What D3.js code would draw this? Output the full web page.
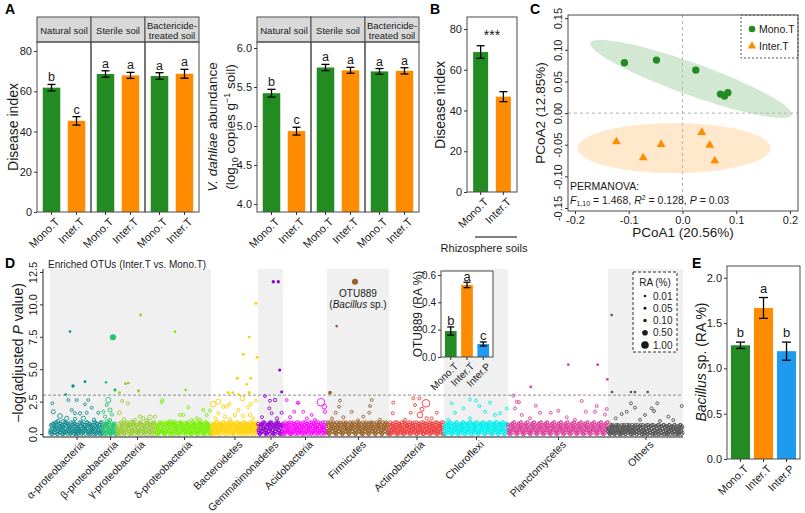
<!DOCTYPE html>
<html><head><meta charset="utf-8">
<script src="https://cdnjs.cloudflare.com/ajax/libs/d3/7.8.5/d3.min.js"></script>
<style>
html,body{margin:0;padding:0;background:#fff;}
svg{display:block;font-family:Arial,"Liberation Sans",sans-serif;}
</style></head><body>
<svg id="fig" width="805" height="513"></svg>
<script>
// ================= DATA =================
const treatments2 = ["Mono.T", "Inter.T"];
const treatments3 = ["Mono.T", "Inter.T", "Inter.P"];
const soilTypes = ["Natural soil", "Sterile soil", "Bactericide-|treated soil"];
// Panel A (left): disease index
const diseaseIndexMean = [[61.8, 45.3], [68.6, 67.9], [67.6, 68.7]];
const diseaseIndexSE = [[1.6, 2.1], [1.6, 1.5], [1.65, 2.2]];
const diseaseIndexLetters = [["b", "c"], ["a", "a"], ["a", "a"]];
const diTicks = [0, 20, 40, 60, 80];
// Panel A (right): V. dahliae abundance
const vdAbundMean = [[5.42, 4.934], [5.75, 5.714], [5.70, 5.707]];
const vdAbundSE = [[0.05, 0.05], [0.04, 0.038], [0.037, 0.04]];
const vdAbundLetters = [["b", "c"], ["a", "a"], ["a", "a"]];
const vdTicks = [4.0, 4.5, 5.0, 5.5, 6.0];
// Panel B: rhizosphere soils
const rhizoMean = [68.7, 46.8];
const rhizoSE = [3.1, 2.45];
// Panel C: PCoA
const pcoaMono = [[-0.108, 0.0795], [-0.0484, 0.0837], [0.0248, 0.0679], [0.0708, 0.030], [0.0782, 0.0269], [0.0844, 0.0321]];
const pcoaInter = [[-0.1229, -0.0453], [-0.0732, -0.0706], [-0.0397, -0.0494], [0.036, -0.0305], [0.0508, -0.0506], [0.0602, -0.0753]];
const ellipseMono = {cx: 0.016, cy: 0.054, ux: 0.1872, uy: -0.0569, vx: -0.0101, vy: -0.0239};
const ellipseInter = {cx: -0.0158, cy: -0.0553, ux: 0.1797, uy: 0, vx: 0, vy: 0.0395};
const pcoaXTicks = [-0.2, -0.1, 0.0, 0.1, 0.2];
const pcoaYTicks = [-0.15, -0.10, -0.05, 0.00, 0.05, 0.10, 0.15];
// Panel D: Manhattan plot (x = OTU rank)
const phyla = ["α-proteobacteria", "β-proteobacteria", "γ-proteobacteria", "δ-proteobacteria", "Bacteroidetes", "Gemmatimonadetes", "Acidobacteria", "Firmicutes", "Actinobacteria", "Chloroflexi", "Planctomycetes", "Others"];
const phylumStart = [0, 53, 67, 107, 161, 208, 233, 277, 339, 394, 458, 558];
const phylumEnd = [53, 67, 107, 161, 208, 233, 277, 339, 394, 458, 558, 633];
const phylumBlock = [0, 0, 0, 0, 1, 2, 3, 4, 5, 6, 7, 8];
const phylumColors = ["#138b8e", "#1fc46c", "#9acd32", "#76f000", "#ffd000", "#9400d3", "#ff00ff", "#9a6228", "#ee3b3b", "#00eeee", "#dc3f9a", "#555555"];
// dense band of non-significant OTUs: one digit per OTU = -log(adj P) in tenths (two interleaved series)
const bandDigits = [
  "37028154960273185406317928046519372608415702936481527039461850237491605832719406",
  "260471835902613748052",
  "514203867109352846071593820467152938047165283904617259380416",
  "407182639501728463059182740361582074936158203749160528371460925837146029583714602",
  "58124073691528047369512840376591820473369158420736912854073619582407637",
  "36071824593061728405937160284593716028",
  "705316284903716285049371628405937162804593716280495371628049537162",
  "8930164729583106472958301674925830146729853016479258310647295380164792583016472985301647295831",
  "75031864297530186429750318462975031864927503186429750381642975031864297530186429750",
  "64027183596402178359640271385964027183569402718359640217835964027183596420718359640271835964027183",
  "530271846953027184695302718469530217846953027184695302718496530271846953027184695320718469530271846953027184695302781469530271846953027184695302718469",
  "41027536140275361402735614027536140275361420753614027536140275361402753614207536140275361402753614027536140275361"
];
const bandDigitsB = [
  "12604873159024681375029461387250164938207415362908147536920817463502948163705291",
  "517380264915037284610",
  "308162947520381694725031869427150386942715083692471508369247",
  "160394827513069482751306948275130694827513609482751306948275130649827513069482751",
  "2047816395204781639520478163952407816395204781369520478163952047816395",
  "81305726948130572694813057269481305726",
  "140962837514096283751409628375140962837514096283751409628375140962",
  "4170395826417039582641703958264170395826417039582641703958264170395826417039582641703958264170",
  "30962847153096284715309628471530962847153096284715309628471530962847153096284715309",
  "205837461920583746192058374619205837461920583746192058374619205837461920583746192058374619205837",
  "712604835971260483597126048359712604835971260483597126048359712604835971260483597126048359712604835971260483597126048359712604835971260483597126048359",
  "25301647205316472053016472053164720530164720531647205301647205316472053016472053164720530164720531647205301647205"
];
// non-significant OTUs above the band: [rank, -log(adj P), RA %]
const nsOTUs = [
  [[2.3,2.37,0.03],[18.3,2.62,0.04],[26.7,2.62,0.04],[38.3,2.62,0.03],[35,2.29,0.03],[41.7,2.03,0.04],[3.3,1.72,0.2],[10,1.39,0.3],[21.7,1.85,0.05],[25,1.6,0.06],[30,1.6,0.1],[36.7,1.64,0.05],[48.3,1.64,0.05],[16.7,1.21,0.2],[33.3,1.21,0.25],[25,1.16,0.1],[8,1.0,0.1],[44,1.1,0.1],[13,0.95,0.2]],
  [[58.3,2.62,0.4],[56.7,2.24,0.05],[53.3,1.72,0.05],[60,1.85,0.2],[55,1.34,0.1],[60,1.08,0.1],[62,1.5,0.05],[57,0.95,0.2]],
  [[72.3,2.55,0.05],[77.7,2.37,0.05],[69.3,1.64,0.15],[90,1.34,0.1],[100,1.29,0.3],[105,1.34,0.05],[81.7,0.95,0.1],[93.3,1.21,0.1],[85,1.1,0.06],[74,1.15,0.1],[97,1.0,0.2]],
  [[112.3,2.62,0.05],[111.7,2.45,0.05],[138.3,2.06,0.04],[130,1.47,0.05],[133.3,1.47,0.05],[153.3,1.85,0.05],[160,1.8,0.05],[156.7,1.47,0.05],[146.7,1.21,0.05],[141.7,1.08,0.05],[120,1.0,0.05],[150,1.1,0.06],[125,0.95,0.05]],
  [[163.3,2.31,0.5],[168.3,2.49,0.4],[173.3,2.11,0.08],[176.7,2.11,0.08],[179.3,2.31,0.05],[192.3,2.75,0.3],[197.7,2.06,0.05],[200.7,2.31,0.08],[205.7,2.57,0.05],[188.3,1.85,0.1],[185,1.47,0.1],[200,1.47,0.1],[168.3,1.6,0.06],[175,1.34,0.08],[193.3,1.39,0.1],[180,1.1,0.1],[165,1.2,0.1],[203,1.2,0.06]],
  [[220,2.57,0.05],[225,2.62,0.1],[219.3,1.98,0.05],[221.7,1.6,0.05],[231.7,1.64,0.06],[215,2.93,0.03],[212,1.3,0.05],[227,1.2,0.08]],
  [[236.7,2.62,0.04],[247.7,2.42,0.04],[244.3,1.72,0.04],[253.3,1.72,0.04],[261.7,1.47,0.04],[265,1.08,0.05],[271,2.45,1.0],[274.3,2.11,0.3],[275,1.72,0.1],[248.3,2.4,0.04],[240,1.3,0.05],[257,1.2,0.05]],
  [[290,2.57,0.04],[321.7,2.62,0.04],[320,2.16,0.04],[319.3,1.64,0.05],[289,2.11,0.04],[285.7,1.64,0.05],[301.7,1.72,0.04],[313.3,1.34,0.05],[293.3,1.29,0.05],[282,1.2,0.05],[330,1.1,0.05],[308,1.05,0.05]],
  [[363.3,2.75,0.05],[369.3,2.75,0.05],[376,2.37,1.0],[370,1.47,0.5],[343.3,2.42,0.05],[365,2.24,0.05],[360.7,1.64,0.05],[342.7,1.6,0.05],[386.7,1.64,0.05],[381.7,1.21,0.05],[376.7,1.21,0.08],[355,1.1,0.05],[372,1.9,0.2]],
  [[420,2.67,0.04],[401.7,2.37,0.04],[426,2.57,0.04],[440,2.42,0.04],[413.3,1.98,0.04],[429.3,2.16,0.04],[450,1.6,0.05],[435,1.72,0.05],[405,1.64,0.05],[456.7,1.98,0.04],[445,1.47,0.05],[398,1.1,0.05],[420,1.2,0.05]],
  [[463.3,2.96,0.05],[466.7,2.49,0.05],[469,2.45,0.05],[485.7,2.18,0.05],[531.7,2.55,0.05],[546.7,2.16,0.05],[508.3,1.8,0.05],[556.7,1.93,0.05],[500.7,1.64,0.05],[490,1.64,0.05],[535.7,1.72,0.05],[545,1.72,0.05],[465,1.98,0.05],[471.7,1.47,0.05],[516.7,1.29,0.05],[480,1.21,0.05],[525,1.1,0.05],[555,1.5,0.05]],
  [[581,2.37,0.05],[585,2.03,0.05],[607.3,2.37,0.05],[601.7,1.98,0.05],[604,1.77,0.05],[631.7,2.16,0.05],[576.7,1.72,0.05],[571.7,1.54,0.05],[595,1.47,0.05],[565.7,1.21,0.05],[618.3,1.34,0.05],[623.3,1.08,0.05],[590,1.1,0.05],[610,1.0,0.05]]
];
// significantly enriched OTUs: [rank, -log(adj P), RA %]
const sigOTUs = [
  [[20,7.9,0.02],[23,3.7,0.1],[35,4.04,0.03],[15.7,3.05,0.02]],
  [[63,7.46,0.6],[56,3.99,0.02],[65,3.4,0.08]],
  [[90.5,9.18,0.03],[75.5,3.88,0.05],[78.3,3.93,0.04],[69.5,3.19,0.03],[88.5,3.32,0.08]],
  [[125,7.9,0.03],[135.7,3.4,0.02]],
  [[206,10.06,0.05],[199.3,7.48,0.03],[193.3,6.15,0.03],[207,5.92,0.03],[187.3,4.3,0.05],[200.7,4.3,0.03],[196.7,3.83,0.02],[178.3,3.19,0.05],[182.7,3.19,0.02],[188.7,3.05,0.02],[199.3,3.19,0.08]],
  [[223.3,11.75,0.1],[228.3,11.75,0.1],[229.7,4.94,0.06],[231.7,3.24,0.05]],
  [],
  [[305,11.75,0.6],[286.7,8.33,0.02],[280,3.19,0.15]],
  [],
  [],
  [[518.3,5.35,0.03],[547.7,5.35,0.03],[557.3,4.22,0.03],[480.7,3.63,0.03]],
  [[561.7,9.18,0.02],[562,3.24,0.02],[581,3.24,0.02],[585,3.24,0.02],[597.7,3.24,0.02]]
];
const bandRA = 0.06;
const pThreshold = 3;
const manYTicks = [0, 2.5, 5, 7.5, 10, 12.5];
const raLegend = [0.01, 0.05, 0.10, 0.50, 1.00];
// Inset: OTU889
const otu889Mean = [0.19, 0.527, 0.095];
const otu889SE = [0.03, 0.02, 0.015];
const otu889Letters = ["b", "a", "c"];
const otu889Ticks = [0.0, 0.2, 0.4, 0.6];
// Panel E: Bacillus sp.
const bacillusMean = [1.255, 1.667, 1.19];
const bacillusSE = [0.035, 0.115, 0.10];
const bacillusLetters = ["b", "a", "b"];
const bacillusTicks = [0.0, 0.5, 1.0, 1.5, 2.0];

// ================= DRAWING =================
const svg = d3.select("#fig");
const FONT = 'Arial, "Liberation Sans", sans-serif';
const barCols = ["#228B22", "#FF8C00", "#1E9AF0"];
const BORDER = "#4a4a4a";
const TXT = "#1a1a1a";
const fmtMinus = f => v => d3.format(f)(v).replace("\u2212", "-");

function errbar(g, cx, ya, yb, cap) {
  g.append("line").attr("x1", cx).attr("x2", cx).attr("y1", ya).attr("y2", yb).attr("stroke", "#000").attr("stroke-width", 1.3);
  [ya, yb].forEach(yy => g.append("line").attr("x1", cx - cap / 2).attr("x2", cx + cap / 2).attr("y1", yy).attr("y2", yy).attr("stroke", "#000").attr("stroke-width", 1.3));
}
function styleAxis(ax, fs) {
  ax.attr("font-family", FONT).attr("font-size", fs);
  ax.select(".domain").remove();
  ax.selectAll(".tick line").attr("stroke", "#333");
  ax.selectAll(".tick text").attr("fill", TXT);
}
function rotateX(ax, tx, ty) {
  ax.selectAll(".tick text").attr("x", 0).attr("y", 0).attr("dy", "0.7em")
    .attr("text-anchor", "end").attr("transform", `translate(${tx},${ty}) rotate(-45)`);
}
function rotateY(ax, off) {
  ax.selectAll(".tick text").attr("x", 0).attr("y", -off).attr("dy", 0)
    .attr("text-anchor", "middle").attr("transform", "rotate(-90)");
}
function vTitle(x, y, fs) {
  return svg.append("text").attr("transform", `translate(${x},${y}) rotate(-90)`)
    .attr("text-anchor", "middle").attr("font-size", fs).attr("fill", TXT);
}
function panelLabel(x, y, s) {
  svg.append("text").attr("x", x).attr("y", y).attr("font-size", 14).attr("font-weight", "bold").attr("fill", "#000").text(s);
}

// ---- Panel A facets ----
function facetPanel(x0, fw, top, stripH, bottom, domain, ticks, fmt, means, ses, letters) {
  const g = svg.append("g");
  const y = d3.scaleLinear().domain(domain).range([bottom, top + stripH]);
  soilTypes.forEach((s, i) => {
    const fx = x0 + i * fw;
    const xb = d3.scaleBand().domain(treatments2).range([fx, fx + fw]).paddingInner(0.3).paddingOuter(0.23);
    g.append("rect").attr("x", fx).attr("y", top).attr("width", fw).attr("height", stripH)
      .attr("fill", "#d9d9d9").attr("stroke", BORDER);
    const lines = s.split("|");
    lines.forEach((ln, k) => {
      g.append("text").attr("x", fx + fw / 2).attr("y", top + stripH / 2 + (k - (lines.length - 1) / 2) * 9.5 + 4.5)
        .attr("text-anchor", "middle").attr("font-size", 9.5).attr("fill", TXT).text(ln);
    });
    treatments2.forEach((t, j) => {
      const v = means[i][j], e = ses[i][j];
      const bx = xb(t), bw = xb.bandwidth(), cx = bx + bw / 2;
      g.append("rect").attr("x", bx).attr("y", y(v)).attr("width", bw).attr("height", y(domain[0]) - y(v)).attr("fill", barCols[j]);
      errbar(g, cx, y(v - e), y(v + e), 8);
      g.append("text").attr("x", cx).attr("y", y(v + e) - 3).attr("text-anchor", "middle")
        .attr("font-size", 12.5).attr("fill", TXT).text(letters[i][j]);
    });
    g.append("rect").attr("x", fx).attr("y", top + stripH).attr("width", fw).attr("height", bottom - top - stripH)
      .attr("fill", "none").attr("stroke", BORDER);
    const ax = g.append("g").attr("transform", `translate(0,${bottom})`).call(d3.axisBottom(xb).tickSize(3).tickPadding(2));
    styleAxis(ax, 11); rotateX(ax, 3, 5);
  });
  const ay = g.append("g").attr("transform", `translate(${x0},0)`)
    .call(d3.axisLeft(y).tickValues(ticks).tickFormat(fmt).tickSize(3).tickPadding(2));
  styleAxis(ay, 11);
}
facetPanel(37, 54, 17, 25, 212, [0, 84.5], diTicks, d3.format("d"), diseaseIndexMean, diseaseIndexSE, diseaseIndexLetters);
facetPanel(257, 54, 17, 25, 212, [3.897, 6.077], vdTicks, d3.format(".1f"), vdAbundMean, vdAbundSE, vdAbundLetters);
panelLabel(5, 14, "A");
vTitle(18, 127, 14).text("Disease index");
{
  const t1 = vTitle(217, 127, 13.5);
  t1.append("tspan").attr("font-style", "italic").text("V. dahliae");
  t1.append("tspan").text(" abundance");
  const t2 = vTitle(235, 127, 13.5);
  t2.append("tspan").text("(log");
  t2.append("tspan").attr("font-size", 9).attr("dy", 3).text("10");
  t2.append("tspan").attr("dy", -3).text(" copies g");
  t2.append("tspan").attr("font-size", 9).attr("dy", -5).text("\u22121");
  t2.append("tspan").attr("dy", 5).text(" soil)");
}

// ---- Simple bar panels (B, E, inset) ----
function simpleBars(c) {
  const g = svg.append("g");
  g.append("rect").attr("x", c.x0).attr("y", c.y0).attr("width", c.x1 - c.x0).attr("height", c.y1 - c.y0).attr("fill", "#fff");
  const x = d3.scaleBand().domain(c.cats).range([c.x0, c.x1]).paddingInner(c.pi).paddingOuter(c.po);
  const y = d3.scaleLinear().domain(c.domain).range([c.y1, c.y0]);
  c.cats.forEach((cat, i) => {
    const v = c.vals[i], e = c.errs[i];
    const bx = x(cat), bw = x.bandwidth(), cx = bx + bw / 2;
    g.append("rect").attr("x", bx).attr("y", y(v)).attr("width", bw).attr("height", y(c.domain[0]) - y(v)).attr("fill", barCols[i]);
    errbar(g, cx, y(v - e), y(v + e), c.cap);
    if (c.letters) g.append("text").attr("x", cx).attr("y", y(v + e) - c.lOff).attr("text-anchor", "middle")
      .attr("font-size", c.lfs).attr("fill", TXT).text(c.letters[i]);
  });
  g.append("rect").attr("x", c.x0).attr("y", c.y0).attr("width", c.x1 - c.x0).attr("height", c.y1 - c.y0)
    .attr("fill", "none").attr("stroke", BORDER);
  const ax = g.append("g").attr("transform", `translate(0,${c.y1})`).call(d3.axisBottom(x).tickSize(3).tickPadding(2));
  styleAxis(ax, c.fs); rotateX(ax, 3, 5);
  const ay = g.append("g").attr("transform", `translate(${c.x0},0)`)
    .call(d3.axisLeft(y).tickValues(c.ticks).tickFormat(c.fmt).tickSize(3).tickPadding(2));
  styleAxis(ay, c.fs);
  return {x, y, g};
}

// Panel B
{
  simpleBars({x0: 467, x1: 517, y0: 17, y1: 192, cats: treatments2, vals: rhizoMean, errs: rhizoSE,
    letters: null, domain: [0, 85.9], ticks: diTicks, fmt: d3.format("d"), pi: 0.34, po: 0.27, cap: 8, fs: 11});
  svg.append("text").attr("x", 492).attr("y", 40).attr("text-anchor", "middle").attr("font-size", 14).attr("fill", TXT).text("***");
  svg.append("line").attr("x1", 475).attr("x2", 517).attr("y1", 237).attr("y2", 237).attr("stroke", "#000").attr("stroke-width", 1);
  svg.append("text").attr("x", 484).attr("y", 252).attr("text-anchor", "middle").attr("font-size", 11).attr("fill", TXT).text("Rhizosphere soils");
  panelLabel(430, 14, "B");
  vTitle(445, 105, 14).text("Disease index");
}

// ---- Panel C: PCoA ----
{
  const x0 = 568, x1 = 798, y0 = 15, y1 = 211;
  const x = d3.scaleLinear().domain([-0.213, 0.215]).range([x0, x1]);
  const y = d3.scaleLinear().domain([-0.1547, 0.155]).range([y1, y0]);
  const g = svg.append("g");
  const ell = (e) => {
    const pts = d3.range(0, 101).map(k => {
      const t = k / 100 * 2 * Math.PI;
      return [x(e.cx + e.ux * Math.cos(t) + e.vx * Math.sin(t)), y(e.cy + e.uy * Math.cos(t) + e.vy * Math.sin(t))];
    });
    return d3.line()(pts) + "Z";
  };
  g.append("path").attr("d", ell(ellipseMono)).attr("fill", "#228B22").attr("fill-opacity", 0.2);
  g.append("path").attr("d", ell(ellipseInter)).attr("fill", "#FF8C00").attr("fill-opacity", 0.2);
  g.append("line").attr("x1", x(0)).attr("x2", x(0)).attr("y1", y0).attr("y2", y1).attr("stroke", "#b3b3b3").attr("stroke-dasharray", "3,3");
  g.append("line").attr("x1", x0).attr("x2", x1).attr("y1", y(0)).attr("y2", y(0)).attr("stroke", "#b3b3b3").attr("stroke-dasharray", "3,3");
  g.selectAll("circle.mono").data(pcoaMono).join("circle").attr("cx", d => x(d[0])).attr("cy", d => y(d[1])).attr("r", 3.7).attr("fill", "#228B22");
  g.selectAll("path.inter").data(pcoaInter).join("path").attr("d", d3.symbol(d3.symbolTriangle, 34))
    .attr("transform", d => `translate(${x(d[0])},${y(d[1])})`).attr("fill", "#FF8C00");
  // legend
  g.append("rect").attr("x", 741).attr("y", y0).attr("width", x1 - 741).attr("height", 43).attr("fill", "#fff")
    .attr("stroke", "#555").attr("stroke-dasharray", "2,2");
  g.append("circle").attr("cx", 752).attr("cy", 29).attr("r", 3.3).attr("fill", "#228B22");
  g.append("text").attr("x", 759).attr("y", 33).attr("font-size", 10.5).attr("fill", TXT).text("Mono.T");
  g.append("path").attr("d", d3.symbol(d3.symbolTriangle, 30)).attr("transform", "translate(752,46)").attr("fill", "#FF8C00");
  g.append("text").attr("x", 759).attr("y", 50).attr("font-size", 10.5).attr("fill", TXT).text("Inter.T");
  g.append("rect").attr("x", x0).attr("y", y0).attr("width", x1 - x0).attr("height", y1 - y0).attr("fill", "none").attr("stroke", BORDER);
  g.append("text").attr("x", 570).attr("y", 190).attr("font-size", 10.5).attr("fill", TXT).text("PERMANOVA:");
  const pt = g.append("text").attr("x", 570).attr("y", 204).attr("font-size", 10.5).attr("fill", TXT);
  pt.append("tspan").attr("font-style", "italic").text("F");
  pt.append("tspan").attr("font-size", 7).attr("dy", 2).text("1,10");
  pt.append("tspan").attr("dy", -2).text(" = 1.468, ");
  pt.append("tspan").attr("font-style", "italic").text("R");
  pt.append("tspan").attr("font-size", 7).attr("dy", -4).text("2");
  pt.append("tspan").attr("dy", 4).text(" = 0.128, ");
  pt.append("tspan").attr("font-style", "italic").text("P");
  pt.append("tspan").text(" = 0.03");
  const ax = g.append("g").attr("transform", `translate(0,${y1})`)
    .call(d3.axisBottom(x).tickValues(pcoaXTicks).tickFormat(fmtMinus(".1f")).tickSize(3).tickPadding(2));
  styleAxis(ax, 11);
  const ay = g.append("g").attr("transform", `translate(${x0},0)`)
    .call(d3.axisLeft(y).tickValues(pcoaYTicks).tickFormat(fmtMinus(".2f")).tickSize(3).tickPadding(2));
  styleAxis(ay, 11); rotateY(ay, 6);
  svg.append("text").attr("x", (x0 + x1) / 2).attr("y", 237).attr("text-anchor", "middle").attr("font-size", 13.5).attr("fill", TXT).text("PCoA1 (20.56%)");
  vTitle(545, (y0 + y1) / 2, 13.5).text("PCoA2 (12.85%)");
  panelLabel(530, 14, "C");
}

// ---- Panel D: Manhattan ----
{
  const x = d3.scaleLinear().domain([-7, 633]).range([43, 683]);
  const y = d3.scaleLinear().domain([-0.23, 12.73]).range([437, 269]);
  const raArea = d3.scaleLinear().domain([0.01, 1]).range([1.7, 14.5]);
  const rr = ra => Math.sqrt(raArea(ra));
  const g = svg.append("g");
  const blocks = d3.groups(d3.range(phyla.length), i => phylumBlock[i]);
  blocks.forEach(([b, idx]) => {
    if (b % 2 !== 0) return;
    const s = d3.min(idx, i => phylumStart[i]), e = d3.max(idx, i => phylumEnd[i]);
    g.append("rect").attr("x", x(s)).attr("y", y(12.73)).attr("width", x(e) - x(s)).attr("height", y(-0.23) - y(12.73)).attr("fill", "#f0f0f0");
  });
  g.append("line").attr("x1", x(-7)).attr("x2", x(633)).attr("y1", y(pThreshold)).attr("y2", y(pThreshold))
    .attr("stroke", "#8c8c8c").attr("stroke-dasharray", "3,2").attr("stroke-width", 1);
  phyla.forEach((p, i) => {
    const col = phylumColors[i];
    const w = phylumEnd[i] - phylumStart[i];
    const bandA = Array.from(bandDigits[i]).map((ch, j, arr) => [phylumStart[i] + (j + 0.5) * w / arr.length, +ch / 10, bandRA]);
    const bandB = Array.from(bandDigitsB[i]).map((ch, j, arr) => [phylumStart[i] + (j + 0.1) * w / arr.length, +ch / 10, bandRA]);
    g.append("g").selectAll("circle").data(bandA.concat(bandB, nsOTUs[i])).join("circle")
      .attr("cx", d => x(d[0])).attr("cy", d => y(d[1])).attr("r", d => rr(d[2]))
      .attr("fill", "none").attr("stroke", col).attr("stroke-width", 0.9);
    g.append("g").selectAll("circle").data(sigOTUs[i]).join("circle")
      .attr("cx", d => x(d[0])).attr("cy", d => y(d[1])).attr("r", d => rr(d[2])).attr("fill", col);
  });
  // axes
  g.append("line").attr("x1", 43).attr("x2", 683).attr("y1", 437).attr("y2", 437).attr("stroke", "#222");
  g.append("line").attr("x1", 43).attr("x2", 43).attr("y1", 269).attr("y2", 437).attr("stroke", "#222");
  const mids = phyla.map((p, i) => (phylumStart[i] + phylumEnd[i]) / 2);
  const ax = g.append("g").attr("transform", "translate(0,437)")
    .call(d3.axisBottom(x).tickValues(mids).tickFormat((d, i) => phyla[i]).tickSize(3).tickPadding(2));
  styleAxis(ax, 10.5); rotateX(ax, 3, 3);
  const ay = g.append("g").attr("transform", "translate(43,0)")
    .call(d3.axisLeft(y).tickValues(manYTicks).tickFormat(d3.format(".1f")).tickSize(3).tickPadding(2));
  styleAxis(ay, 11); rotateY(ay, 6);
  const yt = vTitle(23, 353, 14);
  yt.append("tspan").text("\u2212log(adjusted ");
  yt.append("tspan").attr("font-style", "italic").text("P");
  yt.append("tspan").text(" value)");
  svg.append("text").attr("x", 48).attr("y", 268).attr("font-size", 10).attr("fill", TXT).text("Enriched OTUs (Inter.T vs. Mono.T)");
  panelLabel(5, 268, "D");
  // OTU889 annotation
  svg.append("text").attr("x", 358).attr("y", 297).attr("text-anchor", "middle").attr("font-size", 10).attr("fill", TXT).text("OTU889");
  const an = svg.append("text").attr("x", 358).attr("y", 308).attr("text-anchor", "middle").attr("font-size", 10).attr("fill", TXT);
  an.append("tspan").text("(");
  an.append("tspan").attr("font-style", "italic").text("Bacillus");
  an.append("tspan").text(" sp.)");
  // RA legend
  svg.append("rect").attr("x", 633).attr("y", 272).attr("width", 44).attr("height", 80).attr("fill", "#fff")
    .attr("stroke", "#333").attr("stroke-dasharray", "3,2");
  svg.append("text").attr("x", 655).attr("y", 286).attr("text-anchor", "middle").attr("font-size", 10).attr("fill", TXT).text("RA (%)");
  const ly = d3.scalePoint().domain(raLegend).range([296, 345]);
  raLegend.forEach(v => {
    svg.append("circle").attr("cx", 645).attr("cy", ly(v)).attr("r", rr(v)).attr("fill", "#1a1a1a");
    svg.append("text").attr("x", 653).attr("y", ly(v) + 3.5).attr("font-size", 10).attr("fill", TXT).text(d3.format(".2f")(v));
  });
  // inset
  simpleBars({x0: 441, x1: 493, y0: 271, y1: 357, cats: treatments3, vals: otu889Mean, errs: otu889SE,
    letters: otu889Letters, lOff: 1.5, lfs: 13, domain: [0, 0.629], ticks: otu889Ticks, fmt: d3.format(".1f"),
    pi: 0.28, po: 0.24, cap: 7, fs: 10});
  vTitle(422, 314, 12).text("OTU889 (RA %)");
}

// ---- Panel E ----
{
  simpleBars({x0: 727, x1: 800, y0: 266, y1: 459, cats: treatments3, vals: bacillusMean, errs: bacillusSE,
    letters: bacillusLetters, lOff: 5, lfs: 13, domain: [0, 2.13], ticks: bacillusTicks, fmt: d3.format(".1f"),
    pi: 0.17, po: 0.17, cap: 9, fs: 11});
  const t = vTitle(706, 362, 14);
  t.append("tspan").attr("font-style", "italic").text("Bacillus");
  t.append("tspan").text(" sp. (RA %)");
  panelLabel(692, 268, "E");
}
</script>
</body></html>
